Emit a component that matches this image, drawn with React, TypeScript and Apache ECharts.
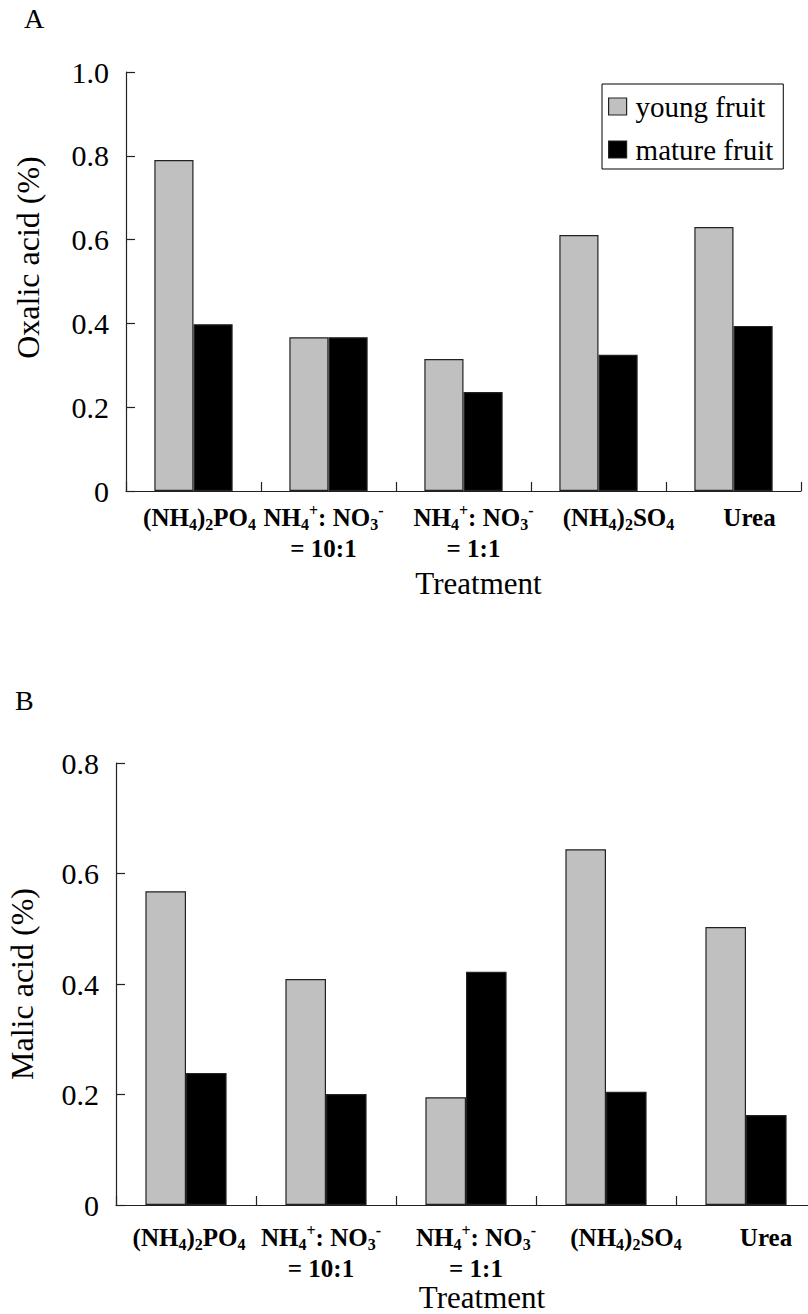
import React, { useEffect, useRef } from "react";
import * as echarts from "echarts";

const categories = ["(NH4)2PO4", "NH4+: NO3- = 10:1", "NH4+: NO3- = 1:1", "(NH4)2SO4", "Urea"];
const categoryRich = [
  "{b|(NH}{s|4}{b|)}{s|2}{b|PO}{s|4}",
  "{b|NH}{s|4}{p|+}{b|: NO}{s|3}{p|-}\n{b|= 10:1}",
  "{b|NH}{s|4}{p|+}{b|: NO}{s|3}{p|-}\n{b|= 1:1}",
  "{b|(NH}{s|4}{b|)}{s|2}{b|SO}{s|4}",
  "{b|Urea}",
];
const seriesNames = ["young fruit", "mature fruit"];
const youngOxalic = [0.79, 0.367, 0.315, 0.611, 0.63];
const matureOxalic = [0.398, 0.367, 0.236, 0.325, 0.394];
const youngMalic = [0.568, 0.409, 0.195, 0.644, 0.503];
const matureMalic = [0.239, 0.201, 0.422, 0.205, 0.163];
const oxalicTicks = { min: 0, max: 1.0, interval: 0.2 };
const malicTicks = { min: 0, max: 0.8, interval: 0.2 };

const FONT = "'Liberation Serif', 'Times New Roman', serif";
const labelShiftA = [6, -5, 10, 20, 16];
const labelShiftB = [3, -5, 10, 20, 20];

function shiftLabel(rich: string, shift: number): string {
  if (!shift) return rich;
  const w = Math.abs(shift) * 2;
  const sp = `{g${w}| }`;
  return rich
    .split("\n")
    .map((line) => (shift > 0 ? sp + line : line + sp))
    .join("\n");
}

function richStyles() {
  const r: any = {
    b: { fontFamily: FONT, fontWeight: "bold", fontSize: 25, color: "#000", lineHeight: 31 },
    s: { fontFamily: FONT, fontWeight: "bold", fontSize: 16, color: "#000", padding: [14, 0, 0, 0] },
    p: { fontFamily: FONT, fontWeight: "bold", fontSize: 16, color: "#000", padding: [0, 0, 14, 0] },
  };
  for (let w = 2; w <= 60; w += 2) r["g" + w] = { width: w, fontSize: 10 };
  return r;
}

const fmtY = (v: number) => (v === 0 ? "0" : v.toFixed(1));

export default function App() {
  const ref = useRef<HTMLDivElement>(null);
  useEffect(() => {
    if (!ref.current) return;
    const chart = echarts.init(ref.current, null, { renderer: "svg" });
    const axisLine = { show: true, lineStyle: { color: "#222", width: 1.2 } };
    const axisTick = { show: true, inside: true, length: 9, lineStyle: { color: "#222", width: 1.2 } };
    const barStyle = (color: string) => ({ color, borderColor: "#222", borderWidth: 1.2 });
    const xAxisBase = (shifts: number[], margin: number, namePadLeft: number, nameGap: number) => ({
      type: "category",
      data: categories,
      boundaryGap: true,
      axisLine,
      axisTick: { ...axisTick, alignWithLabel: false, interval: 0 },
      axisLabel: {
        interval: 0,
        margin,
        formatter: (_v: string, i: number) => shiftLabel(categoryRich[i], shifts[i]),
        rich: richStyles(),
      },
      name: "Treatment",
      nameLocation: "middle",
      nameGap,
      nameTextStyle: { fontFamily: FONT, fontSize: 31, color: "#000", padding: [0, 0, 0, namePadLeft] },
      splitLine: { show: false },
    });
    const yAxisBase = (ticks: any, name: string, nameGap: number, pad: number) => ({
      type: "value",
      ...ticks,
      axisLine,
      axisTick,
      splitLine: { show: false },
      axisLabel: { margin: 17, fontFamily: FONT, fontSize: 30, color: "#000", formatter: fmtY },
      name,
      nameLocation: "middle",
      nameGap,
      nameTextStyle: { fontFamily: FONT, fontSize: 32, color: "#000", padding: [0, 0, 0, pad] },
    });
    chart.setOption({
      animation: false,
      backgroundColor: "#fff",
      grid: [
        { left: 126, top: 72, width: 675, height: 419, outerBoundsMode: "none", containLabel: false },
        { left: 116, top: 763, width: 700, height: 442, outerBoundsMode: "none", containLabel: false },
      ],
      legend: {
        data: seriesNames,
        orient: "vertical",
        left: 602,
        top: 84,
        padding: [8, 10, 5, 6],
        itemGap: 14,
        itemWidth: 18,
        itemHeight: 17,
        itemStyle: { borderColor: "#222", borderWidth: 1.2 },
        icon: "rect",
        borderColor: "#000",
        borderWidth: 1,
        textStyle: { fontFamily: FONT, fontSize: 29, color: "#000", padding: [0, 0, 0, 4] },
        selectedMode: false,
      },
      xAxis: [
        { ...xAxisBase(labelShiftA, 11, 30, 77), gridIndex: 0 },
        { ...xAxisBase(labelShiftB, 17, 32, 71), gridIndex: 1 },
      ],
      yAxis: [
        { ...yAxisBase(oxalicTicks, "Oxalic acid (%)", 82, 48), gridIndex: 0 },
        { ...yAxisBase(malicTicks, "Malic acid (%)", 78, 0), gridIndex: 1 },
      ],
      graphic: [
        { type: "text", left: 24, top: 4, style: { text: "A", font: `28px ${FONT}`, fill: "#000" } },
        { type: "text", left: 15, top: 686, style: { text: "B", font: `28px ${FONT}`, fill: "#000" } },
      ],
      series: [
        { name: seriesNames[0], type: "bar", xAxisIndex: 0, yAxisIndex: 0, data: youngOxalic, barGap: "0%", barCategoryGap: "42%", itemStyle: barStyle("#C0C0C0") },
        { name: seriesNames[1], type: "bar", xAxisIndex: 0, yAxisIndex: 0, data: matureOxalic, barGap: "0%", barCategoryGap: "42%", itemStyle: barStyle("#000") },
        { name: seriesNames[0], type: "bar", xAxisIndex: 1, yAxisIndex: 1, data: youngMalic, barGap: "0%", barCategoryGap: "42%", itemStyle: barStyle("#C0C0C0") },
        { name: seriesNames[1], type: "bar", xAxisIndex: 1, yAxisIndex: 1, data: matureMalic, barGap: "0%", barCategoryGap: "42%", itemStyle: barStyle("#000") },
      ],
    });
    return () => chart.dispose();
  }, []);
  return (
    <div
      ref={ref}
      style={{ position: "absolute", left: 0, top: 0, width: 808, height: 1314, background: "#fff" }}
    />
  );
}
